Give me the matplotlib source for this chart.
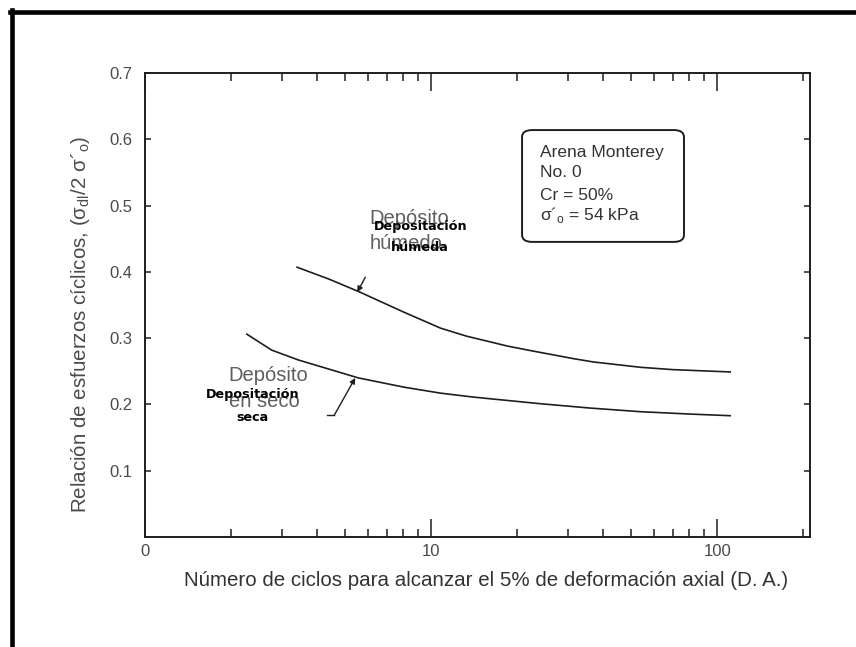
import matplotlib
matplotlib.use("Agg")
import matplotlib.pyplot as plt
from matplotlib.lines import Line2D
from matplotlib.patches import FancyBboxPatch

# Cycles to reach 5% double-amplitude axial strain vs. cyclic stress ratio
ciclos_humedo = [3.4, 4.4, 5.6, 8.05, 10.8, 13.3, 18.5, 22.4, 31.5, 37.0, 54, 70, 111]
razon_humedo = [0.407, 0.389, 0.370, 0.339, 0.315, 0.303, 0.288, 0.281, 0.269, 0.264,
                0.256, 0.2525, 0.249]

ciclos_seco = [2.27, 2.77, 3.44, 5.57, 8.05, 10.8, 14.1, 24.2, 36, 54, 80, 111]
razon_seco = [0.306, 0.282, 0.267, 0.240, 0.226, 0.217, 0.211, 0.201, 0.1945, 0.189,
              0.1855, 0.183]

x_major = [1, 10, 100]
x_major_labels = ["0", "10", "100"]
x_minor = [2, 3, 4, 5, 6, 7, 8, 9, 20, 30, 40, 50, 60, 70, 80, 90, 200]
y_ticks = [0.1, 0.2, 0.3, 0.4, 0.5, 0.6, 0.7]
y_tick_labels = ["0.1", "0.2", "0.3", "0.4", "0.5", "0.6", "0.7"]

info_lines = ["Arena Monterey", "No. 0", "Cr = 50%", "σ´$_\\mathregular{o}$ = 54 kPa"]

plt.rcParams["font.family"] = ["Liberation Sans", "DejaVu Sans"]
plt.rcParams["mathtext.fontset"] = "custom"
plt.rcParams["mathtext.rm"] = "Liberation Sans"

GRAY = "#4a4a4a"
LIGHT = "#5e5e5e"
INK = "#1e1e1e"
BOLD_FAMILY = ["DejaVu Sans"]

fig = plt.figure(figsize=(8.56, 6.47), dpi=100)
ax = fig.add_axes([145 / 856, 1 - 537 / 647, 665 / 856, 464 / 647])

ax.plot(ciclos_humedo, razon_humedo, color=INK, lw=1.2)
ax.plot(ciclos_seco, razon_seco, color=INK, lw=1.2)

ax.set_xscale("log")
ax.set_xlim(1, 211)
ax.set_ylim(0, 0.7)

ax.set_xticks(x_major)
ax.set_xticklabels(x_major_labels)
ax.set_xticks(x_minor, minor=True)
ax.xaxis.set_minor_formatter(matplotlib.ticker.NullFormatter())
ax.set_yticks(y_ticks)
ax.set_yticklabels(y_tick_labels)

ax.tick_params(axis="x", which="major", direction="in", length=13, width=1.1,
               top=True, bottom=True, labelsize=12, labelcolor=GRAY, pad=5, color=INK)
ax.tick_params(axis="x", which="minor", direction="in", length=6, width=1.1,
               top=True, bottom=True, color=INK)
ax.tick_params(axis="y", which="major", direction="in", length=4, width=1.1,
               left=True, right=True, labelsize=12, labelcolor=GRAY, pad=9, color=INK)
ax.tick_params(axis="y", which="minor", left=False, right=False)

for sp in ax.spines.values():
    sp.set_linewidth(1.4)
    sp.set_color(INK)

# Leader arrows to the curves
ax.annotate("", xy=(5.52, 0.3695), xytext=(5.89, 0.392),
            arrowprops=dict(arrowstyle="-|>", color=INK, lw=1.0,
                            mutation_scale=8, shrinkA=0, shrinkB=0))
ax.plot([4.31, 4.59], [0.184, 0.184], color=INK, lw=1.0)
ax.annotate("", xy=(5.43, 0.240), xytext=(4.59, 0.184),
            arrowprops=dict(arrowstyle="-|>", color=INK, lw=1.0,
                            mutation_scale=8, shrinkA=0, shrinkB=0))

# Curve labels
ax.text(6.08, 0.481, "Depósito", fontsize=14.5, color=LIGHT, va="center", ha="left")
ax.text(6.08, 0.443, "húmedo", fontsize=14.5, color=LIGHT, va="center", ha="left")
ax.text(9.16, 0.469, "Depositación", fontsize=9.2, fontweight="bold", color="black",
        va="center", ha="center", family=BOLD_FAMILY)
ax.text(9.16, 0.436, "húmeda", fontsize=9.2, fontweight="bold", color="black",
        va="center", ha="center", family=BOLD_FAMILY)

ax.text(1.96, 0.243, "Depósito", fontsize=14.5, color=LIGHT, va="center", ha="left")
ax.text(1.96, 0.204, "en seco", fontsize=14.5, color=LIGHT, va="center", ha="left")
ax.text(2.38, 0.2157, "Depositación", fontsize=9.2, fontweight="bold", color="black",
        va="center", ha="center", family=BOLD_FAMILY)
ax.text(2.38, 0.181, "seca", fontsize=9.2, fontweight="bold", color="black",
        va="center", ha="center", family=BOLD_FAMILY)

# Test conditions box
box = FancyBboxPatch((0.567, 0.636), 0.2435, 0.241, transform=ax.transAxes,
                     boxstyle="round,pad=0,rounding_size=0.015",
                     facecolor="white", edgecolor=INK, lw=1.4)
ax.add_patch(box)
for yy, line in zip([0.8276, 0.7845, 0.737, 0.694], info_lines):
    ax.text(0.594, yy, line, transform=ax.transAxes, fontsize=12.5,
            color="#333333", va="center", ha="left")

# Axis titles
fig.text(486 / 856, 1 - 581 / 647,
         "Número de ciclos para alcanzar el 5% de deformación axial (D. A.)",
         fontsize=14.8, color="#333333", ha="center", va="center")
fig.text(81 / 856, 1 - 324 / 647,
         "Relación de esfuerzos cíclicos, (σ$_\\mathregular{dl}$/2 σ´$_\\mathregular{o}$)",
         fontsize=14.8, color=GRAY, ha="center", va="center", rotation=90)

# Page frame
fig.add_artist(Line2D([12 / 856, 12 / 856], [0, 1 - 10 / 647],
                      transform=fig.transFigure, color="black", lw=3.3))
fig.add_artist(Line2D([10 / 856, 1], [1 - 12 / 647, 1 - 12 / 647],
                      transform=fig.transFigure, color="black", lw=3.3))

fig.savefig("out.png", dpi=100, facecolor="white")
